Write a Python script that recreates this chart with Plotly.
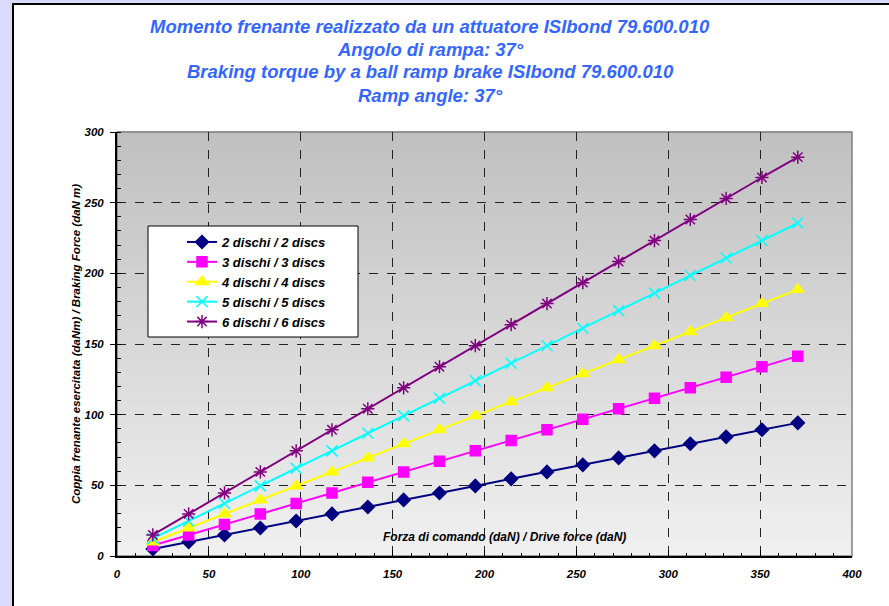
import plotly.graph_objects as go

drive_force = [19.5, 39.0, 58.5, 78.0, 97.5, 117.0, 136.5, 156.0, 175.5, 195.0,
               214.5, 234.0, 253.5, 273.0, 292.5, 312.0, 331.5, 351.0, 370.5]

discs_2 = [5.0, 9.9, 14.9, 19.8, 24.8, 29.8, 34.7, 39.7, 44.6, 49.6,
           54.6, 59.5, 64.5, 69.4, 74.4, 79.4, 84.3, 89.3, 94.2]
discs_3 = [7.4, 14.9, 22.3, 29.8, 37.2, 44.6, 52.1, 59.5, 67.0, 74.4,
           81.8, 89.3, 96.7, 104.2, 111.6, 119.0, 126.5, 133.9, 141.4]
discs_4 = [9.9, 19.8, 29.8, 39.7, 49.6, 59.5, 69.4, 79.4, 89.3, 99.2,
           109.1, 119.0, 129.0, 138.9, 148.8, 158.7, 168.6, 178.6, 188.5]
discs_5 = [12.4, 24.8, 37.2, 49.6, 62.0, 74.4, 86.8, 99.2, 111.6, 124.0,
           136.4, 148.8, 161.2, 173.6, 186.0, 198.4, 210.8, 223.2, 235.6]
discs_6 = [14.9, 29.8, 44.6, 59.5, 74.4, 89.3, 104.2, 119.0, 133.9, 148.8,
           163.7, 178.6, 193.4, 208.3, 223.2, 238.1, 253.0, 267.8, 282.2]

series_names = ["2 dischi / 2 discs", "3 dischi / 3 discs", "4 dischi / 4 discs",
                "5 dischi / 5 discs", "6 dischi / 6 discs"]
series_values = [discs_2, discs_3, discs_4, discs_5, discs_6]
series_colors = ["#000080", "#ff00ff", "#ffff00", "#00ffff", "#800080"]
series_symbols = ["diamond", "square", "triangle-up", "x-thin-open", "asterisk-open"]
series_sizes = [10, 10, 11, 11, 11]

title_lines = [
    "Momento frenante realizzato da un attuatore ISIbond 79.600.010",
    "Angolo di rampa: 37°",
    "Braking torque by a ball ramp brake ISIbond 79.600.010",
    "Ramp angle: 37°",
]
x_title = "Forza di comando (daN) / Drive force (daN)"
y_title = "Coppia frenante esercitata (daNm) / Braking Force (daN m)"

FONT = "Liberation Sans, Arial, sans-serif"

fig = go.Figure()
for name, vals, col, sym, sz in zip(series_names, series_values, series_colors,
                                     series_symbols, series_sizes):
    fig.add_trace(go.Scatter(
        x=drive_force, y=vals, name=name, mode="lines+markers",
        line=dict(color=col, width=2),
        marker=dict(symbol=sym, size=sz, color=col,
                    line=dict(color=col, width=1.5)),
    ))

# pixel geometry helpers
L, R, T, B = 117, 852, 132, 556
def px2x(px):
    return (px - L) / (R - L)
def py2y(py):
    return (B - py) / (B - T)

shapes = []
# white panel with black border (top/left visible)
shapes.append(dict(type="rect", xref="paper", yref="paper",
                   x0=px2x(13), x1=px2x(900), y0=py2y(620), y1=py2y(4),
                   fillcolor="white", line=dict(color="black", width=2),
                   layer="below"))
# gradient background of plot area
n = 60
top_c, bot_c = 192, 240
for i in range(n):
    f0 = i / n
    f1 = (i + 1) / n
    c = round(bot_c + (top_c - bot_c) * (i + 0.5) / n)
    shapes.append(dict(type="rect", xref="x domain", yref="y domain",
                       x0=0, x1=1, y0=f0, y1=f1 + 0.002,
                       fillcolor=f"rgb({c},{c},{c})", line=dict(width=0),
                       layer="below"))
# gray frame
shapes.append(dict(type="rect", xref="x domain", yref="y domain",
                   x0=0, x1=1, y0=0, y1=1, fillcolor="rgba(0,0,0,0)",
                   line=dict(color="#808080", width=1.5), layer="below"))
# legend box
shapes.append(dict(type="rect", xref="paper", yref="paper",
                   x0=px2x(148), x1=px2x(358), y0=py2y(337), y1=py2y(226),
                   fillcolor="white", line=dict(color="black", width=1),
                   layer="above"))

annotations = []
title_y = [27, 49, 72, 95]
for txt, yy in zip(title_lines, title_y):
    annotations.append(dict(text=txt, xref="paper", yref="paper",
                            x=px2x(430), y=py2y(yy), xanchor="center",
                            yanchor="middle", showarrow=False,
                            font=dict(family=FONT, size=18.5, color="#3366ff",
                                      weight="bold", style="italic")))
annotations.append(dict(text=x_title, xref="paper", yref="paper",
                        x=px2x(504), y=py2y(537), xanchor="center",
                        yanchor="middle", showarrow=False,
                        font=dict(family=FONT, size=12, color="black",
                                  weight="bold", style="italic")))
annotations.append(dict(text=y_title, xref="paper", yref="paper",
                        x=px2x(76), y=py2y(344), xanchor="center",
                        yanchor="middle", showarrow=False, textangle=-90,
                        font=dict(family=FONT, size=11.5, color="black",
                                  weight="bold", style="italic")))

tickfont = dict(family=FONT, size=11.5, color="black", weight="bold", style="italic")

fig.update_layout(
    width=889, height=606,
    margin=dict(l=L, r=889 - R, t=T, b=606 - B, pad=0),
    paper_bgcolor="#dadafa",
    plot_bgcolor="rgba(0,0,0,0)",
    shapes=shapes,
    annotations=annotations,
    showlegend=True,
    legend=dict(x=px2x(152), y=py2y(227), xanchor="left", yanchor="top",
                bgcolor="rgba(0,0,0,0)", borderwidth=0,
                font=dict(family=FONT, size=13, color="black",
                          weight="bold", style="italic"),
                indentation=30, tracegroupgap=0, itemwidth=30),
    xaxis=dict(range=[0, 400], dtick=50, tick0=0,
               showline=True, linecolor="black", linewidth=2,
               ticks="inside", ticklen=6, tickcolor="black", tickwidth=1,
               minor=dict(dtick=10, ticks="inside", ticklen=3,
                          tickcolor="black", showgrid=False),
               showgrid=True, gridcolor="#222222", griddash="dash", gridwidth=1,
               zeroline=False, tickfont=tickfont, ticklabelstandoff=6),
    yaxis=dict(range=[0, 300], dtick=50, tick0=0,
               showline=True, linecolor="black", linewidth=2,
               ticks="outside", ticklen=5, tickcolor="black", tickwidth=1,
               minor=dict(dtick=10, ticks="inside", ticklen=4,
                          tickcolor="black", showgrid=False),
               showgrid=True, gridcolor="#222222", griddash="dash", gridwidth=1,
               zeroline=False, tickfont=tickfont, ticklabelstandoff=4),
)

fig.write_html("out.html", config={"displayModeBar": False},
               post_script="document.body.style.margin='0';document.body.style.padding='0';")
